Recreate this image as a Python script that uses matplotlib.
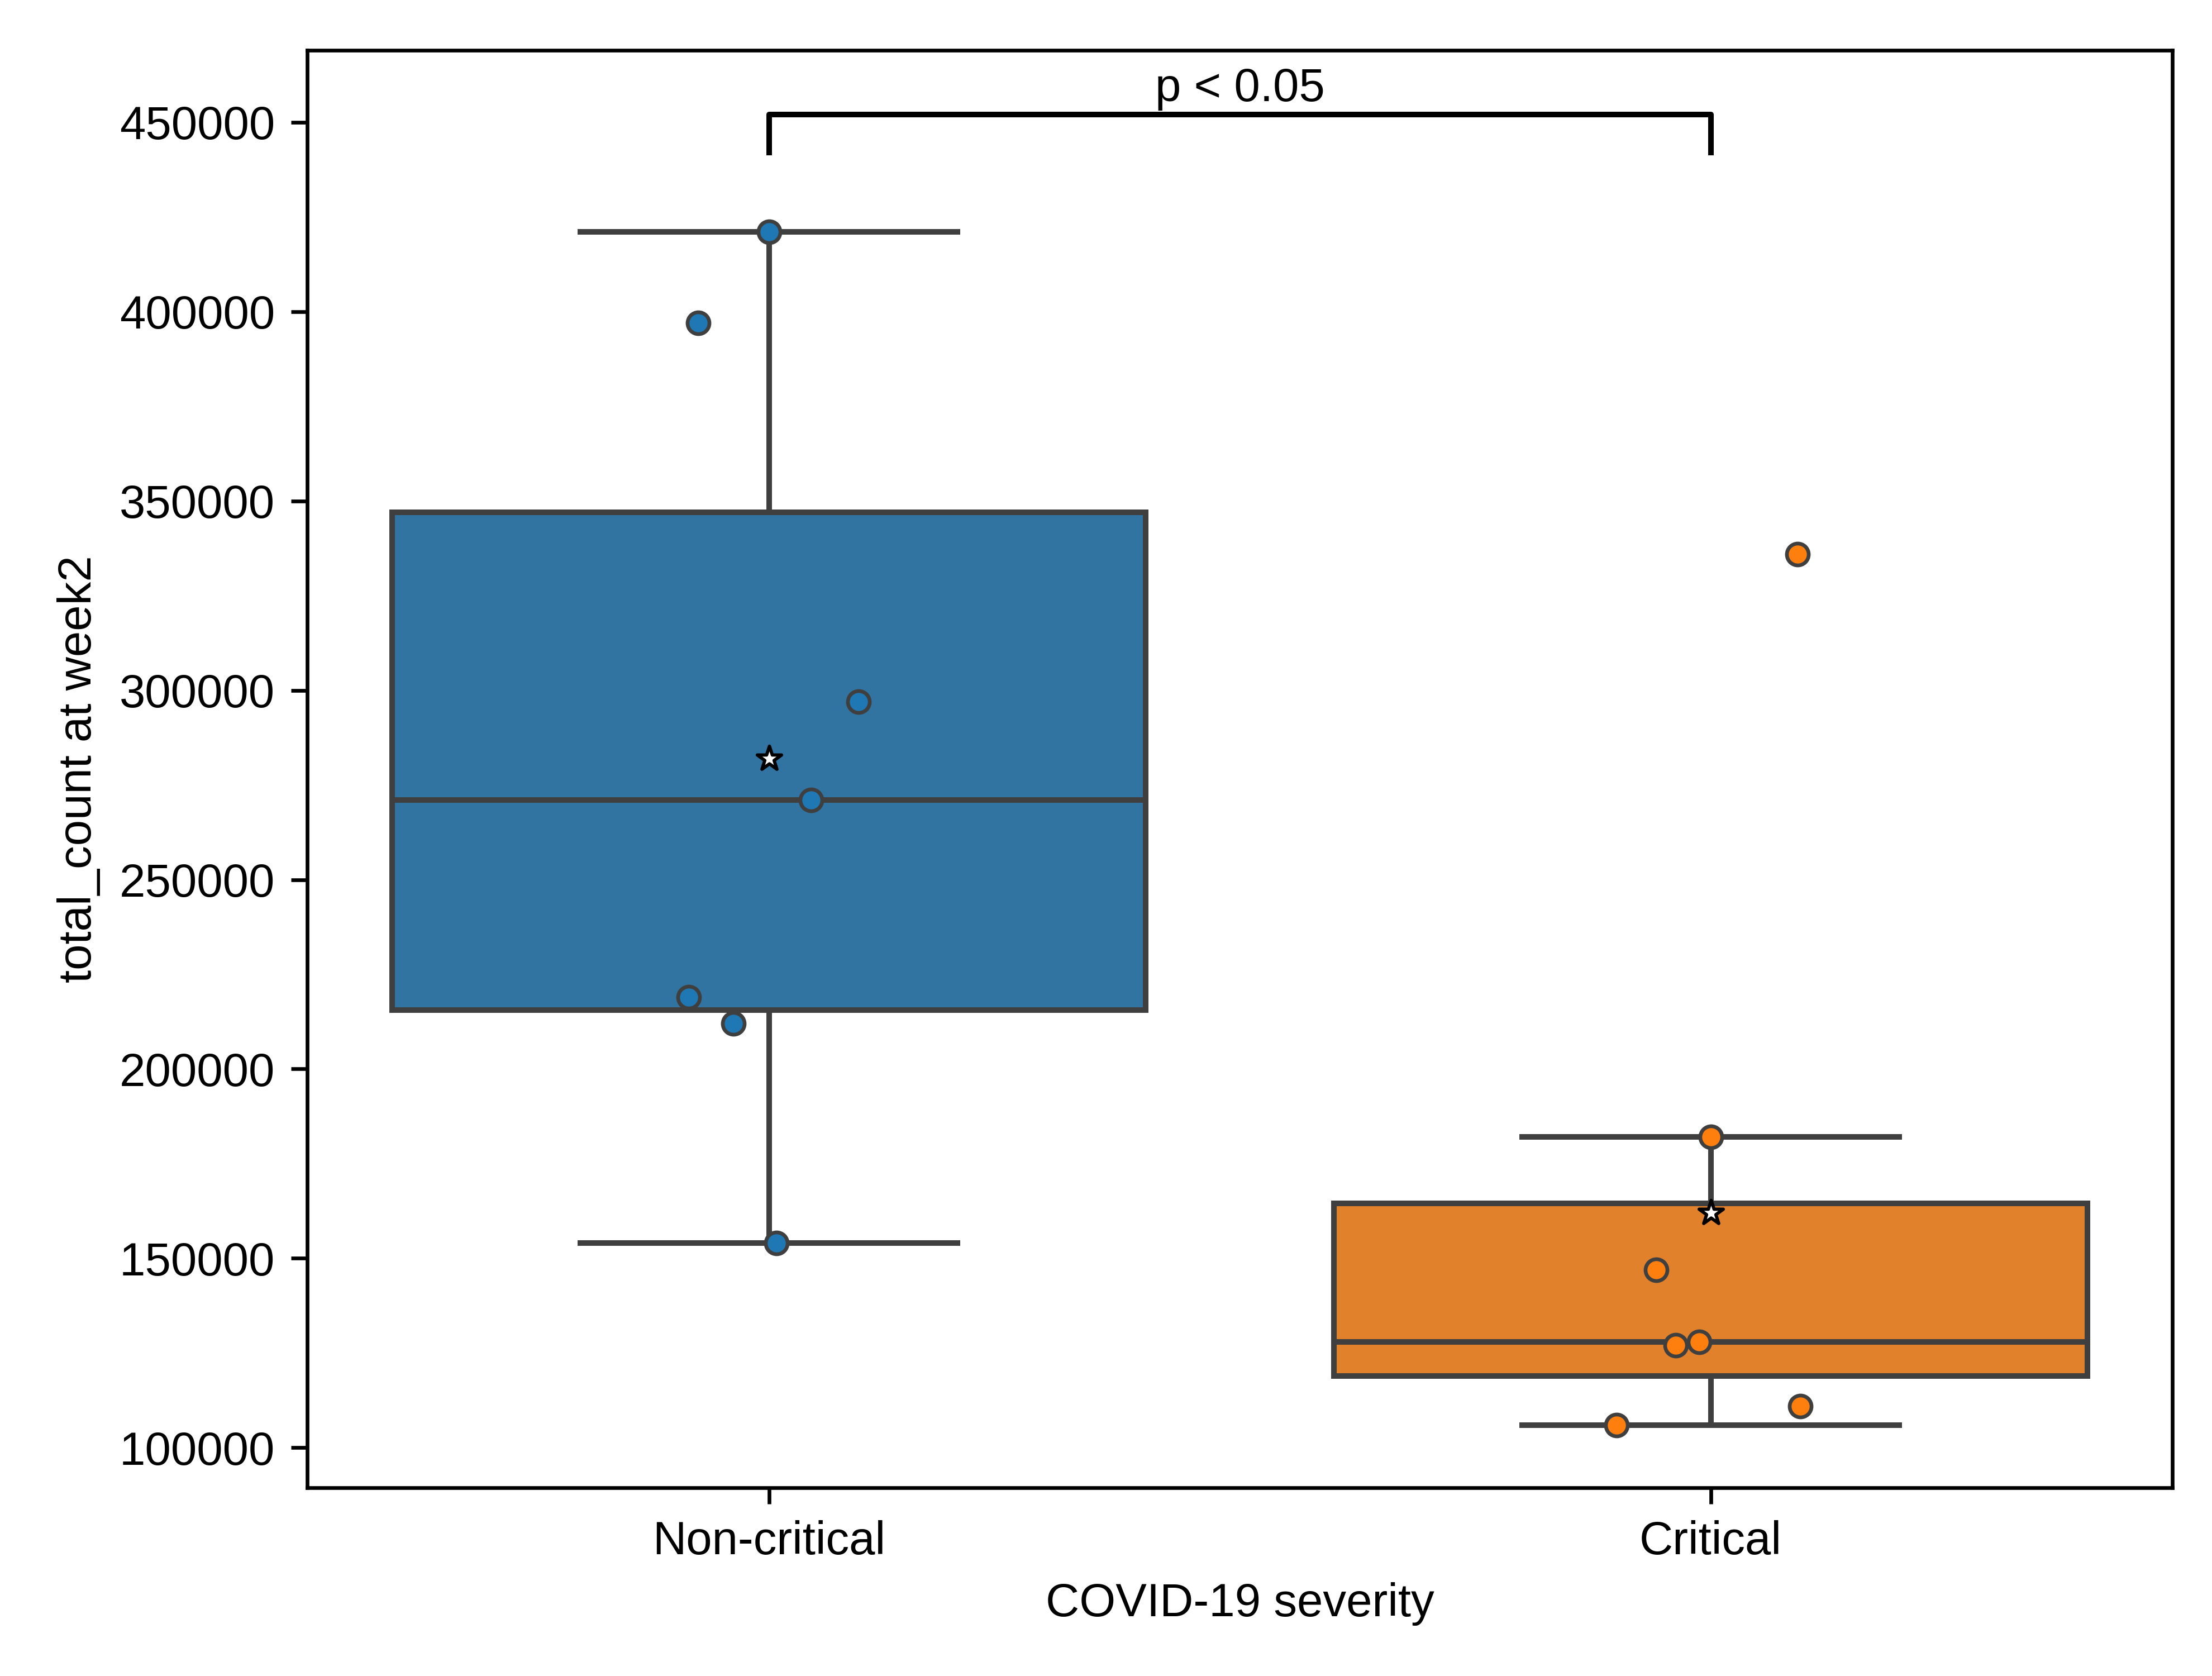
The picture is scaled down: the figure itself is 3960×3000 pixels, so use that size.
import numpy as np
import matplotlib.pyplot as plt
import seaborn as sns
import pandas as pd

plt.rcParams['font.family'] = ['Liberation Sans', 'DejaVu Sans']

groups = ["Non-critical", "Critical"]
noncritical = [421000, 397000, 297000, 271000, 219000, 212000, 154000]
critical = [182000, 147000, 128000, 127000, 111000, 106000, 336000]
nc_jitter = [0.0, -0.075, 0.095, 0.045, -0.085, -0.038, 0.008]
cr_jitter = [0.0, -0.058, -0.012, -0.037, 0.095, -0.1, 0.092]
means = [282000, 162000]
colors = ["#1f77b4", "#ff7f0e"]

df = pd.DataFrame({"severity": ["Non-critical"] * 7 + ["Critical"] * 7,
                   "value": noncritical + critical})

fig = plt.figure(figsize=(6.6, 5), dpi=600)
ax = fig.add_axes([0.139, 0.1125, 0.843, 0.8575])
sns.boxplot(data=df, x="severity", y="value", order=groups, hue="severity",
            palette=colors, showfliers=False, width=0.8, linewidth=1.2, ax=ax, legend=False)

for i, (vals, jit) in enumerate([(noncritical, nc_jitter), (critical, cr_jitter)]):
    ax.scatter(np.array(jit) + i, vals, s=22, color=colors[i], edgecolor="#3f3f3f",
               linewidth=0.8, zorder=3)
ax.scatter([0, 1], means, marker="*", s=30, color="white", edgecolor="black",
           linewidth=0.7, zorder=4)

ax.plot([0, 0, 1, 1], [442000, 452000, 452000, 442000], color="black", lw=1.2)
ax.text(0.5, 453000, "p < 0.05", ha="center", va="bottom", fontsize=10)

ax.set_ylim(89500, 469000)
ax.set_xlabel("COVID-19 severity", fontsize=10)
ax.set_ylabel("total_count at week2", fontsize=10)
ax.tick_params(labelsize=10)
fig.savefig("out.png")
